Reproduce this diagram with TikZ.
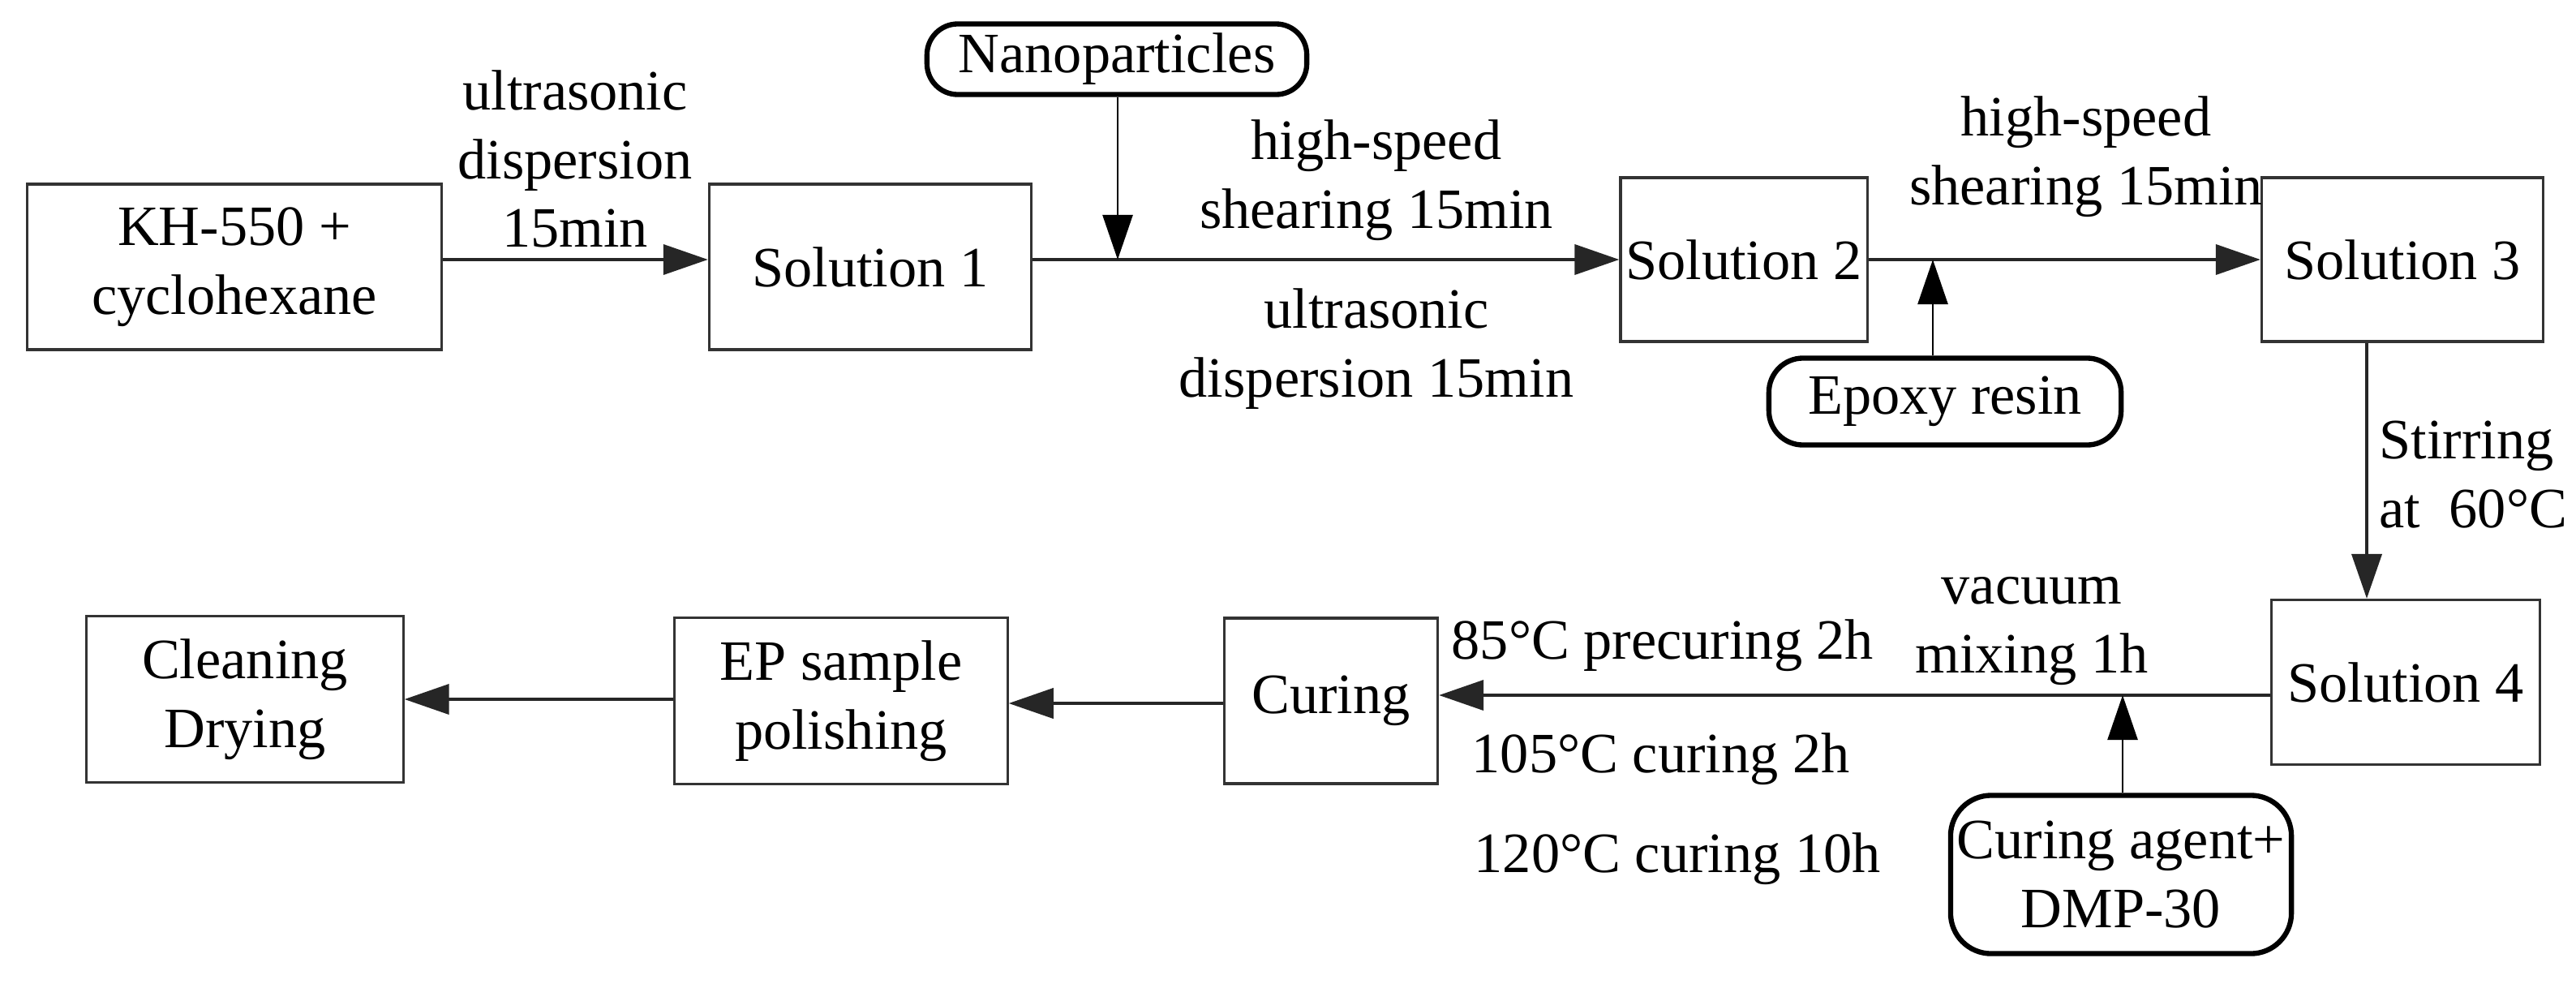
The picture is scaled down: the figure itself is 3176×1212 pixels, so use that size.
\documentclass[tikz,border=0pt]{standalone}
\usepackage{fontspec}
\setmainfont{Liberation Serif}
\usetikzlibrary{arrows.meta}
\newcommand\figfont{\fontsize{20}{24}\selectfont}
\begin{document}
\begin{tikzpicture}[x=0.01cm, y=-0.01cm,
  box/.style={draw=black!80, line width=0.9pt, inner sep=0pt, align=center, font=\figfont},
  term/.style={draw=black, line width=1.8pt, inner sep=0pt, align=center, font=\figfont},
  lbl/.style={inner sep=0pt, align=center, font=\figfont},
  arr/.style={draw=black!85, line width=1.1pt, -{Triangle[length=0.55cm,width=0.37cm]}},
  feed/.style={draw=black, line width=0.7pt, -{Triangle[length=0.55cm,width=0.37cm]}}]
\useasboundingbox (0,0) rectangle (3176,1212);

% boxes
\node[box, minimum width=5.10cm, minimum height=2.04cm] (kh) at (289,329) {KH-550 +\\cyclohexane};
\node[box, minimum width=3.97cm, minimum height=2.04cm] (s1) at (1073,329) {Solution 1};
\node[box, minimum width=3.04cm, minimum height=2.02cm] (s2) at (2150,320) {Solution 2};
\node[box, minimum width=3.47cm, minimum height=2.02cm] (s3) at (2962,320) {Solution 3};
\node[box, minimum width=3.31cm, minimum height=2.03cm] (s4) at (2966,841) {Solution 4};
\node[box, minimum width=2.63cm, minimum height=2.04cm] (cur) at (1641,864) {Curing};
\node[box, minimum width=4.10cm, minimum height=2.05cm] (ep) at (1037,864) {EP sample\\polishing};
\node[box, minimum width=3.90cm, minimum height=2.05cm] (cl) at (302,862) {Cleaning\\Drying};

% rounded inputs
\node[term, rounded corners=0.38cm, minimum width=4.68cm, minimum height=0.87cm] (nano) at (1377,73) {Nanoparticles};
\node[term, rounded corners=0.42cm, minimum width=4.34cm, minimum height=1.07cm] (epoxy) at (2398,495) {Epoxy resin};
\node[term, rounded corners=0.5cm, minimum width=4.20cm, minimum height=1.95cm] (agent) at (2615,1078) {Curing agent+\\DMP-30};

% helper coordinates
\coordinate (ya) at (0,320);
\coordinate (jn) at (1378,320);
\coordinate (je) at (2383,320);
\coordinate (xs) at (2918,0);
\coordinate (yb) at (0,857);
\coordinate (ja) at (2617,857);
\coordinate (yc) at (0,867);
\coordinate (yd) at (0,862);

% connectors
\draw[arr] (kh.east |- ya) -- (s1.west |- ya);
\draw[arr] (s1.east |- ya) -- (s2.west);
\draw[feed] (nano.south -| jn) -- (jn);
\draw[arr] (s2.east) -- (s3.west);
\draw[feed] (epoxy.north -| je) -- (je);
\draw[arr] (s3.south -| xs) -- (s4.north -| xs);
\draw[arr] (s4.west |- yb) -- (cur.east |- yb);
\draw[feed] (agent.north -| ja) -- (ja);
\draw[arr] (cur.west |- yc) -- (ep.east |- yc);
\draw[arr] (ep.west |- yd) -- (cl.east |- yd);

% labels
\node[lbl] (l1) at (709,196) {ultrasonic\\dispersion\\15min};
\node[lbl] (l2) at (1697,222) {high-speed\\shearing 15min};
\node[lbl] (l3) at (1697,430) {ultrasonic\\dispersion 15min};
\node[lbl] (l4) at (2572,193) {high-speed\\shearing 15min};
\node[lbl, align=left, anchor=west] (l5) at (2933,585) {Stirring\\at~ 60°C};
\node[lbl] (l6) at (2505,778) {vacuum\\mixing 1h};
\node[lbl, anchor=west] (l7) at (1789,796) {85°C precuring 2h};
\node[lbl, anchor=west] (l8) at (1814,936) {105°C curing 2h};
\node[lbl, anchor=west] (l9) at (1817,1059) {120°C curing 10h};
\end{tikzpicture}
\end{document}
